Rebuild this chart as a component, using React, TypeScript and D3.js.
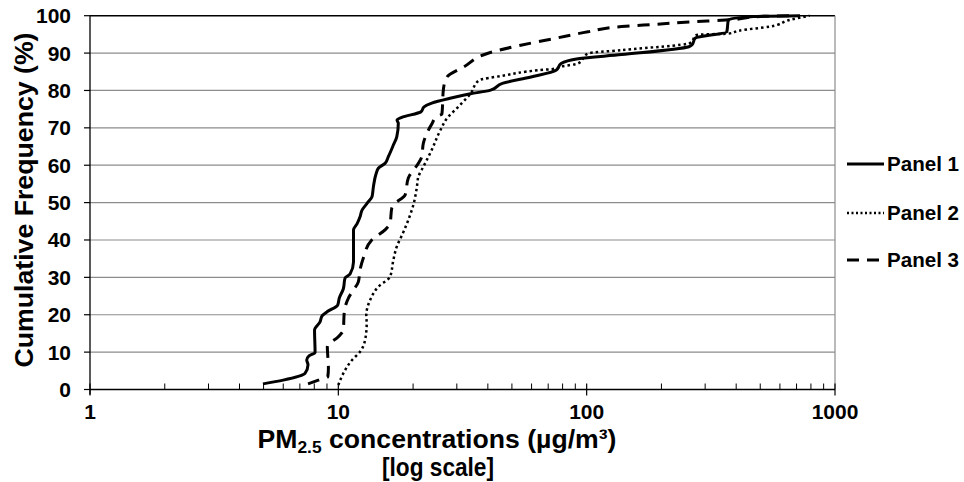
import React from "react";
import * as d3 from "d3";

const p1Conc = [4.97, 6.0, 7.34, 7.55, 7.46, 7.62, 8.06, 8.02, 8.44, 8.6, 9.01, 9.94, 10.09, 10.47, 10.64, 11.15, 11.51, 11.51, 11.89, 12.23, 12.46, 13.05, 13.67, 13.84, 14.19, 14.49, 15.42, 15.9, 16.66, 17.19, 17.44, 17.23, 18.0, 21.53, 22.14, 23.78, 28.18, 34.04, 41.06, 45.76, 59.68, 75.3, 78.9, 92.3, 138.3, 258, 265.8, 273.3, 366.6, 372.1, 469.3, 723];
const p1Freq = [1.5, 2.5, 4.3, 6.6, 7.9, 9.0, 9.9, 15.9, 18.1, 19.7, 20.8, 22.6, 24.5, 26.9, 29.8, 30.9, 34.1, 42.7, 44.3, 46.2, 48.0, 49.8, 51.6, 54.2, 57.7, 59.2, 60.5, 62.3, 65.4, 67.6, 71.2, 72.1, 72.8, 74.3, 75.6, 76.6, 77.9, 79.1, 80.1, 81.9, 83.6, 85.4, 87.2, 88.5, 89.6, 91.7, 92.2, 94.0, 95.7, 98.9, 99.8, 100];

const p2Conc = [10.0, 10.47, 11.36, 12.23, 12.81, 13.01, 12.96, 13.42, 14.49, 16.16, 16.66, 17.19, 18.22, 19.27, 20.05, 20.69, 21.0, 22.0, 23.78, 25.68, 27.73, 29.99, 30.91, 34.04, 36.8, 46.5, 63.5, 74.2, 78.9, 92.3, 101.3, 138.3, 260.9, 277.5, 371.1, 411.1, 547.7, 659.6, 790];
const p2Freq = [1.2, 4.3, 7.9, 10.1, 13.2, 17.7, 19.9, 23.9, 27.5, 30.2, 34.7, 38.2, 41.9, 45.9, 49.4, 53.9, 56.9, 59.6, 64.1, 69.2, 73.0, 75.2, 76.1, 79.1, 82.7, 84.0, 85.4, 85.8, 86.4, 87.2, 89.9, 90.8, 92.7, 94.9, 95.2, 96.0, 97.1, 98.9, 100];

const p3Conc = [7.55, 8.31, 9.07, 9.12, 9.03, 10.0, 10.47, 10.57, 10.97, 11.49, 12.04, 12.23, 12.61, 13.63, 15.42, 16.16, 16.41, 16.92, 18.56, 19.14, 21.0, 21.67, 22.0, 23.78, 24.91, 26.13, 26.5, 27.38, 32.0, 39.8, 54.3, 74.2, 101.3, 138.3, 189.0, 258, 378, 499, 690.8];
const p3Freq = [1.5, 2.5, 3.4, 5.7, 11.5, 14.1, 15.9, 20.8, 24.4, 26.6, 28.8, 32.0, 35.2, 40.0, 42.7, 44.5, 48.5, 49.8, 52.0, 56.6, 60.5, 62.3, 65.9, 71.0, 73.0, 73.7, 80.4, 83.6, 86.3, 89.9, 92.1, 93.9, 95.7, 97.1, 97.7, 98.3, 98.9, 99.8, 100];

const seriesNames = ["Panel 1", "Panel 2", "Panel 3"];
const yTicks = [0, 10, 20, 30, 40, 50, 60, 70, 80, 90, 100];
const xMajorTicks = [1, 10, 100, 1000];

const W = 964;
const H = 482;
const FONT = "'Liberation Sans', Arial, sans-serif";

export default function App() {
  const x = d3.scaleLog().domain([1, 1000]).range([90, 835]);
  const y = d3.scaleLinear().domain([0, 100]).range([389.5, 15.7]);

  const line = d3
    .line<[number, number]>()
    .x((d) => x(d[0]))
    .y((d) => y(d[1]))
    .curve(d3.curveMonotoneY);

  const series = [
    { name: seriesNames[0], data: p1Conc.map((c, i) => [c, p1Freq[i]] as [number, number]), dash: "none", width: 3 },
    { name: seriesNames[1], data: p2Conc.map((c, i) => [c, p2Freq[i]] as [number, number]), dash: "2.5 3", width: 2.5 },
    { name: seriesNames[2], data: p3Conc.map((c, i) => [c, p3Freq[i]] as [number, number]), dash: "12 8", width: 3 },
  ];

  const minorTicks: number[] = [];
  for (let dec = 1; dec < 1000; dec *= 10) {
    for (let k = 2; k <= 9; k++) minorTicks.push(dec * k);
  }

  const legendY = [164, 213, 260];

  return (
    <svg width={W} height={H} style={{ position: "absolute", left: 0, top: 0, background: "#fff" }} fontFamily={FONT}>
      <rect x={0} y={0} width={W} height={H} fill="#fff" />
      {yTicks.filter((t) => t > 0 && t < 100).map((t) => (
        <line key={"g" + t} x1={x(1)} x2={x(1000)} y1={y(t)} y2={y(t)} stroke="#8c8c8c" strokeWidth={1.2} />
      ))}
      <line x1={x(1)} x2={x(1000)} y1={y(100)} y2={y(100)} stroke="#000" strokeWidth={1.5} />
      <line x1={x(1000)} x2={x(1000)} y1={y(100)} y2={y(0)} stroke="#8c8c8c" strokeWidth={1.2} />

      {series.map((s) => (
        <path key={s.name} d={line(s.data) || ""} fill="none" stroke="#000" strokeWidth={s.width} strokeDasharray={s.dash} strokeLinejoin="round" />
      ))}

      <line x1={x(1)} x2={x(1)} y1={y(0) + 5} y2={y(100)} stroke="#000" strokeWidth={1.3} />
      {yTicks.map((t) => (
        <g key={"yt" + t}>
          <line x1={x(1) - 6} x2={x(1)} y1={y(t)} y2={y(t)} stroke="#000" strokeWidth={1.2} />
          <text x={71} y={y(t) + 7.5} textAnchor="end" fontSize={21} fontWeight="bold">{t}</text>
        </g>
      ))}

      <line x1={x(1)} x2={x(1000)} y1={y(0)} y2={y(0)} stroke="#000" strokeWidth={1.3} />
      {xMajorTicks.map((t) => (
        <g key={"xt" + t}>
          <line x1={x(t)} x2={x(t)} y1={y(0) - 6} y2={y(0) + 6} stroke="#000" strokeWidth={1.2} />
          <text x={x(t)} y={419} textAnchor="middle" fontSize={21} fontWeight="bold">{t}</text>
        </g>
      ))}
      {minorTicks.map((t) => (
        <line key={"mt" + t} x1={x(t)} x2={x(t)} y1={y(0) - 6} y2={y(0)} stroke="#000" strokeWidth={1} />
      ))}

      <text x={437} y={448} textAnchor="middle" fontSize={26} fontWeight="bold" textLength={359} lengthAdjust="spacingAndGlyphs">
        PM<tspan fontSize={17} dy={5}>2.5</tspan><tspan dy={-5}> concentrations (µg/m³)</tspan>
      </text>
      <text x={438} y={476} textAnchor="middle" fontSize={26} fontWeight="bold" textLength={112} lengthAdjust="spacingAndGlyphs">[log scale]</text>
      <text transform="translate(33,200) rotate(-90)" textAnchor="middle" fontSize={26} fontWeight="bold" textLength={335} lengthAdjust="spacingAndGlyphs">Cumulative Frequency (%)</text>

      {series.map((s, i) => (
        <g key={"lg" + s.name}>
          <line x1={847} x2={884} y1={legendY[i]} y2={legendY[i]} stroke="#000" strokeWidth={s.width} strokeDasharray={s.dash === "none" ? "none" : i === 1 ? "2 2.5" : "12 8"} />
          <text x={887} y={legendY[i] + 7} fontSize={20} fontWeight="bold" textLength={72} lengthAdjust="spacingAndGlyphs">{s.name}</text>
        </g>
      ))}
    </svg>
  );
}
